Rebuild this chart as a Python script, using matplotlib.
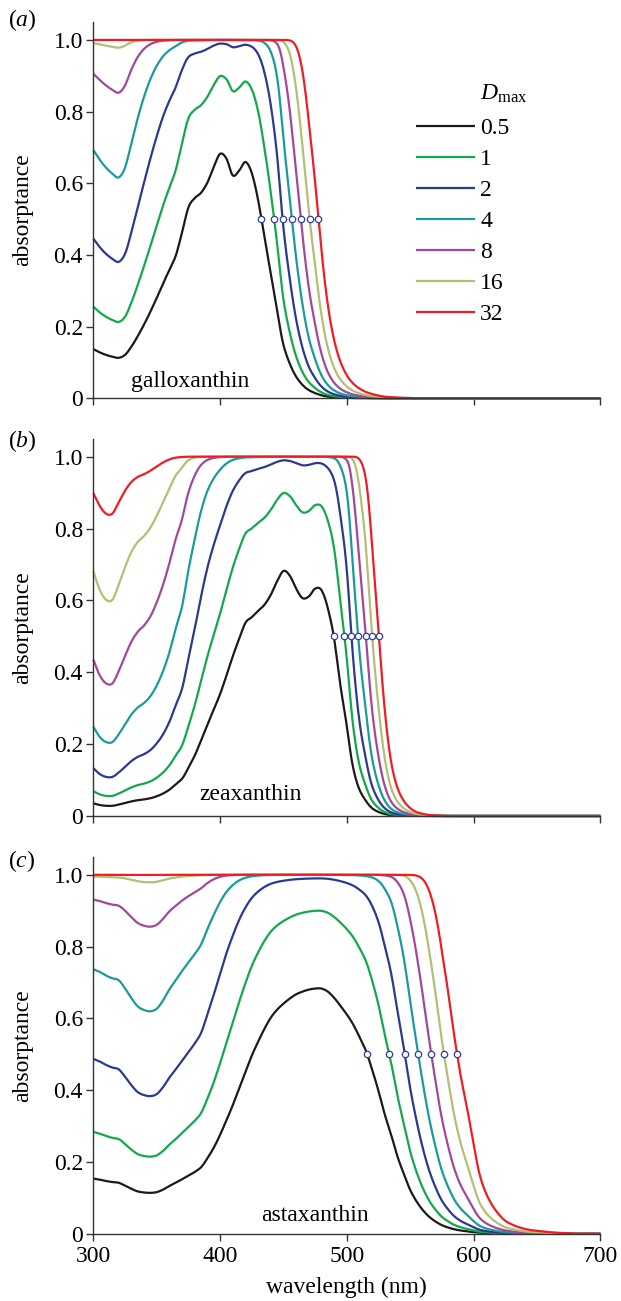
import numpy as np
import matplotlib
matplotlib.use('Agg')
import matplotlib.pyplot as plt

plt.rcParams['font.family'] = ['Liberation Serif', 'DejaVu Serif']
plt.rcParams['mathtext.fontset'] = 'custom'
plt.rcParams['mathtext.rm'] = 'Liberation Serif'
plt.rcParams['mathtext.it'] = 'Liberation Serif:italic'

# wavelength grid (nm)
wavelengths = np.arange(300, 705, 5)

# normalised absorbance spectra (peak = 1)
gallox_abs = [0.128, 0.119, 0.112, 0.107, 0.104, 0.112, 0.135, 0.165, 0.200, 0.240,
              0.285, 0.335, 0.385, 0.440, 0.540, 0.660, 0.710, 0.740, 0.800, 0.900,
              0.995, 0.960, 0.845, 0.875, 0.935, 0.860, 0.700, 0.520, 0.370, 0.245,
              0.140, 0.088, 0.054, 0.033, 0.020, 0.0125, 0.0072, 0.0041, 0.0024, 0.00145,
              0.00090, 0.00057, 0.00037, 0.00024, 0.00016, 0.00010, 0.00006, 0.00004, 0.000025, 0.000015,
              0.00001, 0.0, 0.0, 0.0, 0.0, 0.0, 0.0, 0.0, 0.0, 0.0,
              0.0, 0.0, 0.0, 0.0, 0.0, 0.0, 0.0, 0.0, 0.0, 0.0,
              0.0, 0.0, 0.0, 0.0, 0.0, 0.0, 0.0, 0.0, 0.0, 0.0, 0.0]

zeax_abs = [0.031, 0.027, 0.025, 0.025, 0.028, 0.032, 0.036, 0.039, 0.041, 0.044,
            0.049, 0.056, 0.066, 0.080, 0.095, 0.125, 0.160, 0.205, 0.255, 0.305,
            0.360, 0.430, 0.510, 0.590, 0.670, 0.700, 0.735, 0.770, 0.830, 0.920,
            0.995, 0.960, 0.870, 0.810, 0.820, 0.870, 0.860, 0.750, 0.590, 0.390,
            0.250, 0.125, 0.066, 0.0376, 0.0188, 0.0098, 0.0047, 0.0022, 0.0011, 0.00058,
            0.00030, 0.00015, 0.00008, 0.00004, 0.00002, 0.00001, 0.0, 0.0, 0.0, 0.0,
            0.0, 0.0, 0.0, 0.0, 0.0, 0.0, 0.0, 0.0, 0.0, 0.0,
            0.0, 0.0, 0.0, 0.0, 0.0, 0.0, 0.0, 0.0, 0.0, 0.0, 0.0]

astax_abs = [0.145, 0.142, 0.138, 0.135, 0.133, 0.125, 0.116, 0.109, 0.106, 0.105,
             0.107, 0.114, 0.124, 0.133, 0.143, 0.153, 0.164, 0.178, 0.205, 0.238,
             0.280, 0.330, 0.385, 0.450, 0.520, 0.595, 0.665, 0.735, 0.800, 0.850,
             0.890, 0.925, 0.955, 0.975, 0.990, 0.998, 0.998, 0.975, 0.930, 0.875,
             0.820, 0.760, 0.690, 0.620, 0.530, 0.440, 0.350, 0.280, 0.210, 0.158,
             0.113, 0.082, 0.059, 0.042, 0.030, 0.021, 0.0151, 0.0107, 0.0078, 0.0058,
             0.0039, 0.0024, 0.0016, 0.0011, 0.00075, 0.00050, 0.00036, 0.00026, 0.00019, 0.00014,
             0.00011, 0.00008, 0.00006, 0.00004, 0.00003, 0.00002, 0.00001, 0.0, 0.0, 0.0, 0.0]

d_max = [0.5, 1, 2, 4, 8, 16, 32]
d_labels = ['0.5', '1', '2', '4', '8', '16', '32']
colors = ['#1a1a1a', '#12a84b', '#2b3990', '#1a9b9b', '#a2489b', '#b4bf76', '#ee1d25']

pigments = ['galloxanthin', 'zeaxanthin', 'astaxanthin']
spectra = [gallox_abs, zeax_abs, astax_abs]
panel_letters = ['a', 'b', 'c']
yticks = [0, 0.2, 0.4, 0.6, 0.8, 1.0]
ytick_labels = ['0', '0.2', '0.4', '0.6', '0.8', '1.0']
xticks = [300, 400, 500, 600, 700]


def smooth_line(x, y, n=10):
    """Catmull-Rom spline through the points (for drawing a smooth line)."""
    x = np.asarray(x, float)
    y = np.asarray(y, float)
    yp = np.concatenate([[2 * y[0] - y[1]], y, [2 * y[-1] - y[-2]]])
    t = np.linspace(0, 1, n, endpoint=False)
    xs, ys = [], []
    for k in range(len(x) - 1):
        p0, p1, p2, p3 = yp[k], yp[k + 1], yp[k + 2], yp[k + 3]
        ys.append(0.5 * (2 * p1 + (-p0 + p2) * t + (2 * p0 - 5 * p1 + 4 * p2 - p3) * t ** 2
                         + (-p0 + 3 * p1 - 3 * p2 + p3) * t ** 3))
        xs.append(x[k] + t * (x[k + 1] - x[k]))
    xs.append([x[-1]])
    ys.append([y[-1]])
    return np.concatenate(xs), np.concatenate(ys)


# layout (figure fractions)
left, width = 0.1503, 0.8164
bottoms = [0.6939, 0.3728, 0.0517]
heights = [0.2892, 0.2900, 0.2897]
name_pos = [(376.5, 0.032), (423.8, 0.045), (474.5, 0.035)]
letter_y = [1 - 20 / 1301, 1 - 441 / 1301, 1 - 861 / 1301]

fig = plt.figure(figsize=(6.21, 13.01), dpi=100)
FS = 17
spine_col = '#333333'

for i in range(3):
    ax = fig.add_axes([left, bottoms[i], width, heights[i]])
    a = np.array(spectra[i])
    xs, la = smooth_line(wavelengths, np.log10(np.maximum(a, 1e-7)))
    a_s = 10 ** la
    peak = int(np.argmax(a_s))
    handles = []
    for d, c, lab in zip(d_max, colors, d_labels):
        A = np.clip(1 - 10 ** (-d * a_s), 0, 1)
        h, = ax.plot(xs, A, color=c, lw=1.6, clip_on=False, label=lab,
                     solid_capstyle='butt')
        handles.append(h)
    # half-maximum markers on the long-wavelength side
    for d in d_max:
        A = 1 - 10 ** (-d * a_s)
        idx = peak + int(np.where(A[peak:] < 0.5)[0][0])
        x0, x1 = xs[idx - 1], xs[idx]
        y0, y1 = A[idx - 1], A[idx]
        xh = x0 + (0.5 - y0) * (x1 - x0) / (y1 - y0)
        ax.plot([xh], [0.5], 'o', ms=4.6, mfc='white', mec='#2f3f9e', mew=0.9,
                zorder=5, clip_on=False)

    ax.set_xlim(300, 700)
    ax.set_ylim(0, 1.05)
    ax.set_xticks(xticks)
    ax.set_yticks(yticks)
    ax.set_yticklabels(ytick_labels)
    for s in ['top', 'right']:
        ax.spines[s].set_visible(False)
    for s in ['left', 'bottom']:
        ax.spines[s].set_color(spine_col)
        ax.spines[s].set_linewidth(1.0)
    ax.tick_params(direction='out', length=5, width=1.0, color=spine_col,
                   labelsize=FS, pad=2.5)
    ax.tick_params(axis='x', pad=4)
    if i < 2:
        ax.tick_params(labelbottom=False)
    else:
        ax.set_xlabel('wavelength (nm)', fontsize=FS, labelpad=7)
    ax.set_ylabel('absorptance', fontsize=FS)
    ax.yaxis.set_label_coords(-0.118, 0.5)
    ax.text(name_pos[i][0], name_pos[i][1], pigments[i], fontsize=FS,
            ha='center', va='baseline')
    fig.text(8 / 621, letter_y[i], '($' + panel_letters[i] + '$)', fontsize=FS,
             ha='left', va='center')

    if i == 0:
        ax.legend(handles, d_labels, loc='upper left', bbox_to_anchor=(0.637, 0.746),
                  frameon=False, handlelength=2.5, handletextpad=0.2,
                  labelspacing=0.40, borderpad=0, borderaxespad=0, fontsize=FS)
        ax.text(0.763, 0.793, r'$D_{\mathrm{max}}$', transform=ax.transAxes,
                fontsize=FS, ha='left', va='baseline')

fig.savefig('out.png', dpi=100)
